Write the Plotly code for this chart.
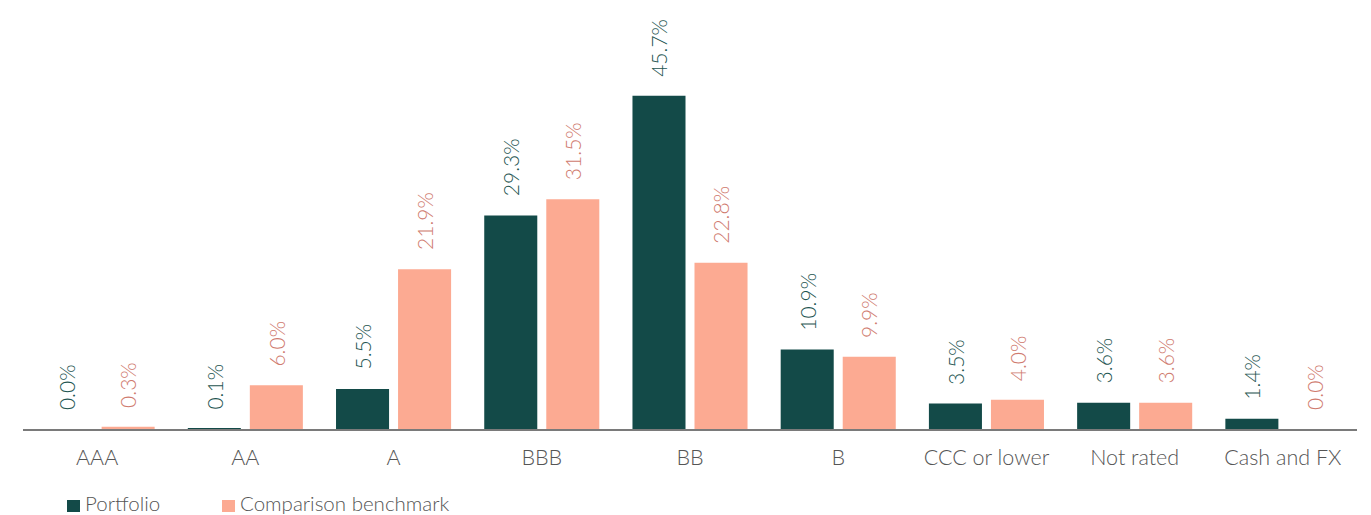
import plotly.graph_objects as go

categories = ["AAA", "AA", "A", "BBB", "BB", "B", "CCC or lower", "Not rated", "Cash and FX"]
portfolio = [0.0, 0.1, 5.5, 29.3, 45.7, 10.9, 3.5, 3.6, 1.4]
benchmark = [0.3, 6.0, 21.9, 31.5, 22.8, 9.9, 4.0, 3.6, 0.0]
series_names = ["Portfolio", "Comparison benchmark"]

bar_colors = ["#134A48", "#FCAA92"]
text_colors = ["#1E5551", "#CF7A6E"]
FONT = "Lato"
WEIGHT = 300

W, H = 1371, 515
ML, MR, MT, MB = 23, 14, 20, 86
YMAX = 56.1

fig = go.Figure()
for name, vals, col in zip(series_names, [portfolio, benchmark], bar_colors):
    fig.add_trace(go.Bar(x=categories, y=vals, name=name, marker_color=col,
                         marker_line_width=0, showlegend=False, hoverinfo="skip"))

# value labels
for i, (vals, tcol) in enumerate(zip([portfolio, benchmark], text_colors)):
    shift = -31 if i == 0 else 31
    for c, v in zip(categories, vals):
        fig.add_annotation(x=c, y=v, text=f"{v:.1f}%", textangle=-90, showarrow=False,
                           xshift=shift, yshift=17, yanchor="bottom", xanchor="center",
                           font=dict(family=FONT, size=21, color=tcol, weight=WEIGHT))

# custom legend
pw = W - ML - MR
ph = H - MT - MB
leg_x = [67, 222]
leg_y = 503
for name, col, lx in zip(series_names, bar_colors, leg_x):
    x0 = (lx - ML) / pw
    x1 = (lx + 13 - ML) / pw
    y0 = (H - MB - (leg_y + 9)) / ph
    y1 = (H - MB - (leg_y - 3)) / ph
    fig.add_shape(type="rect", xref="paper", yref="paper", x0=x0, x1=x1, y0=y0, y1=y1,
                  fillcolor=col, line_width=0)
    fig.add_annotation(xref="paper", yref="paper", x=(lx + 16 - ML) / pw,
                       y=(H - MB - leg_y) / ph, text=name, showarrow=False,
                       xanchor="left", yanchor="middle",
                       font=dict(family=FONT, size=20.5, color="#555555", weight=WEIGHT))

fig.update_layout(
    width=W, height=H,
    margin=dict(l=ML, r=MR, t=MT, b=MB),
    paper_bgcolor="white", plot_bgcolor="white",
    barmode="group", bargap=0.163, bargroupgap=0.145,
    font=dict(family=FONT, size=20, color="#555555", weight=WEIGHT),
    xaxis=dict(showline=True, linecolor="#7a7a7a", linewidth=2, showgrid=False,
               ticks="", tickfont=dict(family=FONT, size=21.5, color="#555555", weight=WEIGHT),
               ticklabelstandoff=8),
    yaxis=dict(range=[0, YMAX], visible=False, showgrid=False),
)

fig.write_html("out.html", config={"displayModeBar": False},
               post_script="document.body.style.margin='0';document.body.style.overflow='hidden';")
